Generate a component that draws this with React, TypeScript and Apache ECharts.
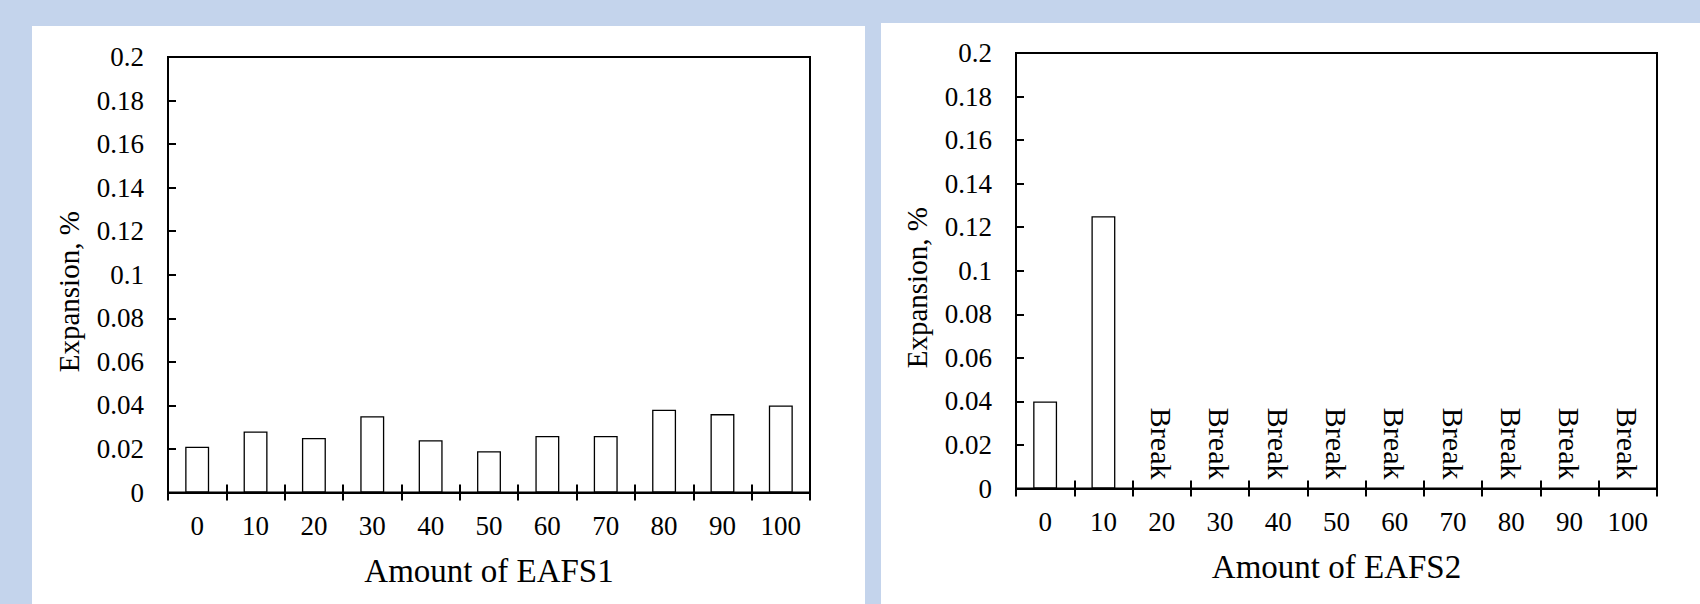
import React, { useEffect, useRef } from "react";
import * as echarts from "echarts";

const categories = ["0", "10", "20", "30", "40", "50", "60", "70", "80", "90", "100"];
const eafs1Expansion = [0.021, 0.028, 0.025, 0.035, 0.024, 0.019, 0.026, 0.026, 0.038, 0.036, 0.04];
const eafs2Expansion = [0.04, 0.125, 0, 0, 0, 0, 0, 0, 0, 0, 0];
const eafs2Notes = ["", "", "Break", "Break", "Break", "Break", "Break", "Break", "Break", "Break", "Break"];
const yMin = 0;
const yMax = 0.2;
const yStep = 0.02;

const FONT = '"Liberation Serif", "Times New Roman", serif';
const BLUE = "#c4d4ec";

function xAxes(gridIndex: number, name: string) {
  return [
    {
      type: "category",
      gridIndex,
      data: categories,
      position: "bottom",
      axisLine: { show: true, lineStyle: { color: "#000", width: 2 } },
      axisTick: { show: true, inside: false, length: 8, lineStyle: { color: "#000", width: 2 } },
      axisLabel: { interval: 0, margin: 20, fontSize: 27, color: "#000", fontFamily: FONT },
      name,
      nameLocation: "middle",
      nameGap: 62,
      nameTextStyle: { fontSize: 33, color: "#000", fontFamily: FONT },
      splitLine: { show: false },
    },
    {
      type: "category",
      gridIndex,
      data: categories,
      position: "bottom",
      axisLine: { show: false },
      axisTick: { show: true, inside: true, length: 8, lineStyle: { color: "#000", width: 2 } },
      axisLabel: { show: false },
      splitLine: { show: false },
    },
  ];
}

function yAxis(gridIndex: number) {
  return {
    type: "value",
    gridIndex,
    min: yMin,
    max: yMax,
    interval: yStep,
    axisLine: { show: true, lineStyle: { color: "#000", width: 2 } },
    axisTick: { show: true, inside: true, length: 8, lineStyle: { color: "#000", width: 2 } },
    axisLabel: {
      margin: 24,
      fontSize: 27,
      color: "#000",
      fontFamily: FONT,
      formatter: (v: number) => String(parseFloat(v.toFixed(2))),
    },
    splitLine: { show: false },
    name: "Expansion, %",
    nameLocation: "middle",
    nameGap: 85,
    nameTextStyle: { fontSize: 29, color: "#000", fontFamily: FONT, padding: [0, 34, 0, 0] },
  };
}

export default function App() {
  const ref = useRef<HTMLDivElement>(null);
  useEffect(() => {
    if (!ref.current) return;
    const chart = echarts.init(ref.current, undefined, { renderer: "svg" });
    const barStyle = { color: "#fff", borderColor: "#000", borderWidth: 1.3 };
    chart.setOption({
      animation: false,
      backgroundColor: BLUE,
      textStyle: { fontFamily: FONT },
      graphic: [
        { type: "rect", z: -100, shape: { x: 32, y: 26, width: 833, height: 578 }, style: { fill: "#fff" } },
        { type: "rect", z: -100, shape: { x: 881, y: 23, width: 819, height: 581 }, style: { fill: "#fff" } },
      ],
      grid: [
        { left: 168, top: 57, width: 642, height: 435.5, show: true, borderColor: "#000", borderWidth: 2, backgroundColor: "transparent" },
        { left: 1016, top: 53, width: 641, height: 435.5, show: true, borderColor: "#000", borderWidth: 2, backgroundColor: "transparent" },
      ],
      xAxis: [...xAxes(0, "Amount of EAFS1"), ...xAxes(1, "Amount of EAFS2")],
      yAxis: [yAxis(0), yAxis(1)],
      series: [
        {
          type: "bar",
          name: "EAFS1",
          xAxisIndex: 0,
          yAxisIndex: 0,
          barWidth: "41%",
          itemStyle: barStyle,
          data: eafs1Expansion,
        },
        {
          type: "bar",
          name: "EAFS2",
          xAxisIndex: 2,
          yAxisIndex: 1,
          barWidth: "41%",
          itemStyle: barStyle,
          data: eafs2Expansion.map((v, i) =>
            eafs2Notes[i]
              ? {
                  value: v,
                  itemStyle: { borderWidth: 0 },
                  label: {
                    show: true,
                    formatter: eafs2Notes[i],
                    position: "top",
                    distance: 9,
                    rotate: -90,
                    align: "right",
                    verticalAlign: "middle",
                    fontSize: 30,
                    color: "#000",
                    fontFamily: FONT,
                  },
                }
              : { value: v }
          ),
        },
      ],
    });
    return () => chart.dispose();
  }, []);
  return (
    <div
      ref={ref}
      style={{ position: "fixed", left: 0, top: 0, width: 1700, height: 604 }}
    />
  );
}
